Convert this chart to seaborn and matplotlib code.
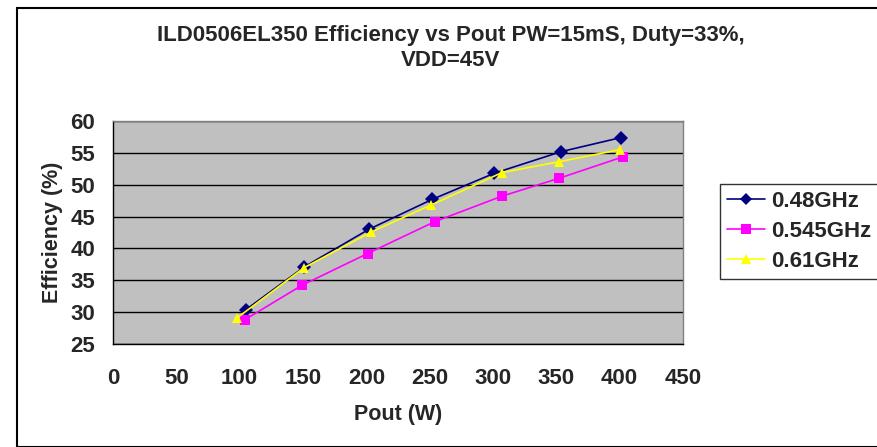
import matplotlib
matplotlib.use("Agg")
import matplotlib.pyplot as plt
import seaborn as sns
import pandas as pd
from matplotlib.patches import Rectangle
from matplotlib.lines import Line2D

# ---- data ----
series_names = ["0.48GHz", "0.545GHz", "0.61GHz"]
pout_048 = [105, 151, 202, 252, 301, 354, 401]
eff_048 = [30.4, 37.1, 43.0, 47.7, 51.8, 55.2, 57.4]
pout_0545 = [104, 149, 201, 254, 307, 352, 403]
eff_0545 = [28.8, 34.2, 39.2, 44.2, 48.2, 51.0, 54.4]
pout_061 = [98, 151, 204, 251, 307, 352, 400]
eff_061 = [29.1, 37.0, 42.6, 46.8, 51.9, 53.6, 55.5]
x_ticks = [0, 50, 100, 150, 200, 250, 300, 350, 400, 450]
y_ticks = [25, 30, 35, 40, 45, 50, 55, 60]

colors = {"0.48GHz": "#000080", "0.545GHz": "#FF00FF", "0.61GHz": "#FFFF00"}
markers = {"0.48GHz": "D", "0.545GHz": "s", "0.61GHz": "^"}

df = pd.concat([
    pd.DataFrame({"Pout": pout_048, "Eff": eff_048, "Freq": series_names[0]}),
    pd.DataFrame({"Pout": pout_0545, "Eff": eff_0545, "Freq": series_names[1]}),
    pd.DataFrame({"Pout": pout_061, "Eff": eff_061, "Freq": series_names[2]}),
], ignore_index=True)

sns.set_style("white")
plt.rcParams["font.family"] = ["Liberation Sans", "DejaVu Sans"]
plt.rcParams["font.weight"] = "bold"

FS = 16
W, H = 878, 447
fig = plt.figure(figsize=(W / 100, H / 100), dpi=100)
fig.patch.set_facecolor("white")

# outer chart border
fig.patches.append(Rectangle((17 / W, 0.0), 1.2, 1 - 8 / H, transform=fig.transFigure,
                             fill=False, edgecolor="black", linewidth=1.5, zorder=0))

L, R, T, B = 113, 683, 121, 344
ax = fig.add_axes([L / W, 1 - B / H, (R - L) / W, (B - T) / H])
ax.set_facecolor("#C0C0C0")

sns.lineplot(data=df, x="Pout", y="Eff", hue="Freq", style="Freq",
             hue_order=series_names, style_order=series_names,
             palette=colors, markers=markers, dashes=False,
             markersize=7.5, linewidth=1.2, markeredgewidth=0,
             ax=ax, legend=False, zorder=3, sort=True)

ax.set_xlim(0, 450)
ax.set_ylim(25, 60)
ax.set_xticks(x_ticks)
ax.set_yticks(y_ticks)
ax.set_xticklabels([str(v) for v in x_ticks], fontsize=FS, fontweight="bold")
ax.set_yticklabels([str(v) for v in y_ticks], fontsize=FS, fontweight="bold")
ax.tick_params(axis="both", direction="out", length=5, width=1, color="black")
ax.tick_params(axis="x", pad=12)
ax.tick_params(axis="y", pad=8)

ax.grid(axis="y", color="black", linewidth=1)
ax.grid(axis="x", visible=False)
ax.set_axisbelow(True)

for s in ["left", "bottom"]:
    ax.spines[s].set_color("black")
    ax.spines[s].set_linewidth(1)
for s in ["top", "right"]:
    ax.spines[s].set_color("#808080")
    ax.spines[s].set_linewidth(1)

ax.set_xlabel("Pout (W)", fontsize=15.5, fontweight="bold", labelpad=11)
ax.set_ylabel("Efficiency (%)", fontsize=15.5, fontweight="bold", labelpad=5)

fig.text(451 / W, 1 - 35 / H, "ILD0506EL350 Efficiency vs Pout PW=15mS, Duty=33%,",
         ha="center", va="center", fontsize=FS, fontweight="bold")
fig.text(451 / W, 1 - 61 / H, "VDD=45V",
         ha="center", va="center", fontsize=FS, fontweight="bold")

# legend
handles = [Line2D([0], [0], color=colors[n], marker=markers[n], markersize=6.5,
                  markeredgewidth=0, linewidth=1.2) for n in series_names]
leg = fig.legend(handles, series_names, loc="upper left",
                 bbox_to_anchor=(720 / W, 1 - 184 / H),
                 prop={"size": FS, "weight": "bold"},
                 frameon=True, fancybox=False, edgecolor="black",
                 handlelength=1.7, handletextpad=0.27, borderpad=0.32,
                 labelspacing=0.4, borderaxespad=0)
leg.get_frame().set_linewidth(1)

fig.savefig("out.png", dpi=100)
